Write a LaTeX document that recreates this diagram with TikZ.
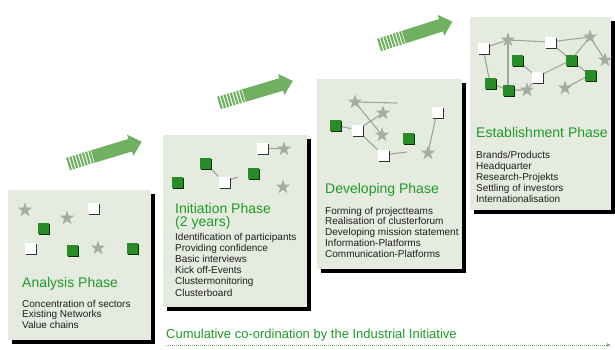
\documentclass[tikz,border=0pt]{standalone}
\usepackage{fontspec}
\setmainfont{Liberation Sans}
\usetikzlibrary{shapes.geometric,shadows,arrows.meta}
\pgfdeclarelayer{back}
\pgfdeclarelayer{mid}
\pgfsetlayers{back,mid,main}
\definecolor{panelfill}{RGB}{230,235,224}
\definecolor{titlegreen}{RGB}{30,155,40}
\definecolor{sqgreen}{RGB}{40,140,40}
\definecolor{arrowgreen}{RGB}{112,176,96}
\definecolor{stargrey}{RGB}{168,172,160}
\definecolor{linegrey}{RGB}{160,164,155}
\definecolor{textblack}{RGB}{30,30,30}
\tikzset{
  panel/.style={rectangle, fill=panelfill, draw=none, inner sep=0pt, anchor=north west,
    drop shadow={shadow xshift=4pt, shadow yshift=-4pt, fill=black, opacity=1}},
  phasetitle/.style={anchor=base west, inner sep=0pt, text=titlegreen, font=\fontsize{14}{16}\selectfont},
  itemtext/.style={anchor=base west, inner sep=0pt, text=textblack, font=\fontsize{10}{11}\selectfont},
  gstar/.style={star, star points=5, star point ratio=2.5, minimum size=15pt, inner sep=0pt, fill=stargrey, draw=none},
  gsq/.style={rectangle, minimum size=11pt, inner sep=0pt, fill=sqgreen, draw=none,
    drop shadow={shadow xshift=1.5pt, shadow yshift=-1.5pt, fill=black!80!green, opacity=1}},
  wsq/.style={rectangle, minimum size=11pt, inner sep=0pt, fill=white, draw=none,
    drop shadow={shadow xshift=1.8pt, shadow yshift=-1.8pt, fill=black!80, opacity=1}},
  conn/.style={draw=linegrey, line width=1.1pt},
  pics/fatarrow/.style={code={
    \fill[arrowgreen] (26,-6.5) -- (65,-6.5) -- (65,-11) -- (77,0) -- (65,11) -- (65,6.5) -- (26,6.5) -- cycle;
    \foreach \k in {0,...,7} \fill[arrowgreen] ({\k*3.3},-6.5) rectangle ({\k*3.3+2.1},6.5);
  }}
}
\begin{document}
\begin{tikzpicture}[x=1pt,y=-1pt]
\useasboundingbox (0,0) rectangle (615,349);
\begin{pgfonlayer}{back}
\fill[white] (0,0) rectangle (615,349);
\node[panel, minimum width=143pt, minimum height=150pt] (pA) at (8,190) {};
\node[panel, minimum width=144pt, minimum height=172pt] (pI) at (163,135) {};
\node[panel, minimum width=145pt, minimum height=190pt] (pD) at (317,79) {};
\node[panel, minimum width=141pt, minimum height=193pt] (pE) at (470,17) {};
\end{pgfonlayer}

% arrows
\pic[rotate=16.8] at (68,164) {fatarrow};
\pic[rotate=16.6] at (219,103) {fatarrow};
\pic[rotate=17.7] at (379,45) {fatarrow};

% Analysis icons
\node[gstar] (a1) at (25,210) {};
\node[gstar] (a2) at (67,218) {};
\node[wsq] (a3) at (93,208) {};
\node[gsq] (a4) at (43,228) {};
\node[wsq] (a5) at (30,248) {};
\node[gsq] (a6) at (72,250) {};
\node[gstar] (a7) at (98,248) {};
\node[gsq] (a8) at (132,248) {};

% Initiation icons
\node[wsq] (i1) at (262,148) {};
\node[gstar] (i2) at (284,149) {};
\node[gsq] (i3) at (205,163) {};
\node[gsq] (i4) at (177,182) {};
\node[wsq] (i5) at (224,182) {};
\node[gsq] (i6) at (253,173) {};
\node[gstar] (i7) at (283,187) {};
\coordinate (ic1) at (238,177);
\begin{pgfonlayer}{mid}
\draw[conn] (i1) -- (i2);
\draw[conn] (i3) -- (i5);
\draw[conn] (i5) -- (ic1);
\end{pgfonlayer}

% Developing icons
\node[gstar] (d1) at (355,102) {};
\node[gstar] (d2) at (383,113) {};
\node[gstar] (d3) at (382,135) {};
\node[gsq] (d4) at (335,125) {};
\node[wsq] (d5) at (357,130) {};
\node[wsq] (d6) at (383,155) {};
\node[gsq] (d7) at (408,138) {};
\node[wsq] (d8) at (437,112) {};
\node[gstar] (d9) at (428,153) {};
\coordinate (dc1) at (397,103);
\coordinate (dc2) at (407,152);
\begin{pgfonlayer}{mid}
\draw[conn] (d1.center) -- (dc1);
\draw[conn] (d1.center) -- (d3.center);
\draw[conn] (d4) -- (d5);
\draw[conn] (d5) -- (d2.center);
\draw[conn] (d5) -- (d6);
\draw[conn] (d6) -- (dc2);
\draw[conn] (d8) -- (d9.center);
\end{pgfonlayer}

% Establishment icons
\node[wsq] (e1) at (483,48) {};
\node[gstar] (e2) at (508,40) {};
\node[wsq] (e3) at (550,42) {};
\node[gstar] (e4) at (590,37) {};
\node[gstar] (e5) at (605,60) {};
\node[gsq] (e6) at (517,60) {};
\node[gsq] (e7) at (571,60) {};
\node[wsq] (e8) at (537,77) {};
\node[gsq] (e9) at (590,75) {};
\node[gsq] (e10) at (490,83) {};
\node[gsq] (e11) at (508,90) {};
\node[gstar] (e12) at (527,90) {};
\node[gstar] (e13) at (565,88) {};
\begin{pgfonlayer}{mid}
\draw[conn] (e1.center) -- (e2.center) -- (e3.center) -- (e4.center) -- (e5.center);
\draw[conn] (e4.center) -- (e7.center);
\draw[conn] (e3.center) -- (e7.center) -- (e9.center);
\draw[conn] (e7.center) -- (e8.center);
\draw[conn] (e6.center) -- (e8.center);
\draw[conn] (e1.center) -- (e10.center) -- (e11.center) -- (e12.center) -- (e8.center);
\draw[conn] (e2.center) -- (e11.center);
\draw[conn] (e9.center) -- (e13.center);
\end{pgfonlayer}

% texts
\node[phasetitle] (tA) at (22,287) {Analysis Phase};
\foreach \t [count=\i] in {Concentration of sectors, Existing Networks, Value chains}
  \node[itemtext] (lA\i) at (22,{307+(\i-1)*10.8}) {\t};

\node[phasetitle] (tI) at (175,213) {Initiation Phase};
\node[phasetitle] (tI2) at (175,226.5) {(2 years)};
\foreach \t [count=\i] in {Identification of participants, Providing confidence, Basic interviews, Kick off-Events, Clustermonitoring, Clusterboard}
  \node[itemtext] (lI\i) at (175,{240+(\i-1)*11.2}) {\t};

\node[phasetitle] (tD) at (325,193) {Developing Phase};
\foreach \t [count=\i] in {Forming of projectteams, Realisation of clusterforum, Developing mission statement, Information-Platforms, Communication-Platforms}
  \node[itemtext] (lD\i) at (325,{214+(\i-1)*10.8}) {\t};

\node[phasetitle] (tE) at (476,137) {Establishment Phase};
\foreach \t [count=\i] in {Brands/Products, Headquarter, Research-Projekts, Settling of investors, Internationalisation}
  \node[itemtext] (lE\i) at (476,{158+(\i-1)*11}) {\t};

% cumulative
\node[phasetitle, font=\fontsize{13}{15}\selectfont] (cum) at (166,338) {Cumulative co-ordination by the Industrial Initiative};
\coordinate (ds) at (166,345);
\coordinate (de) at (611,345);
\draw[densely dotted, line width=1pt, draw=arrowgreen, -{Latex[length=4pt,width=4pt]}] (ds) -- (de);
\end{tikzpicture}
\end{document}
